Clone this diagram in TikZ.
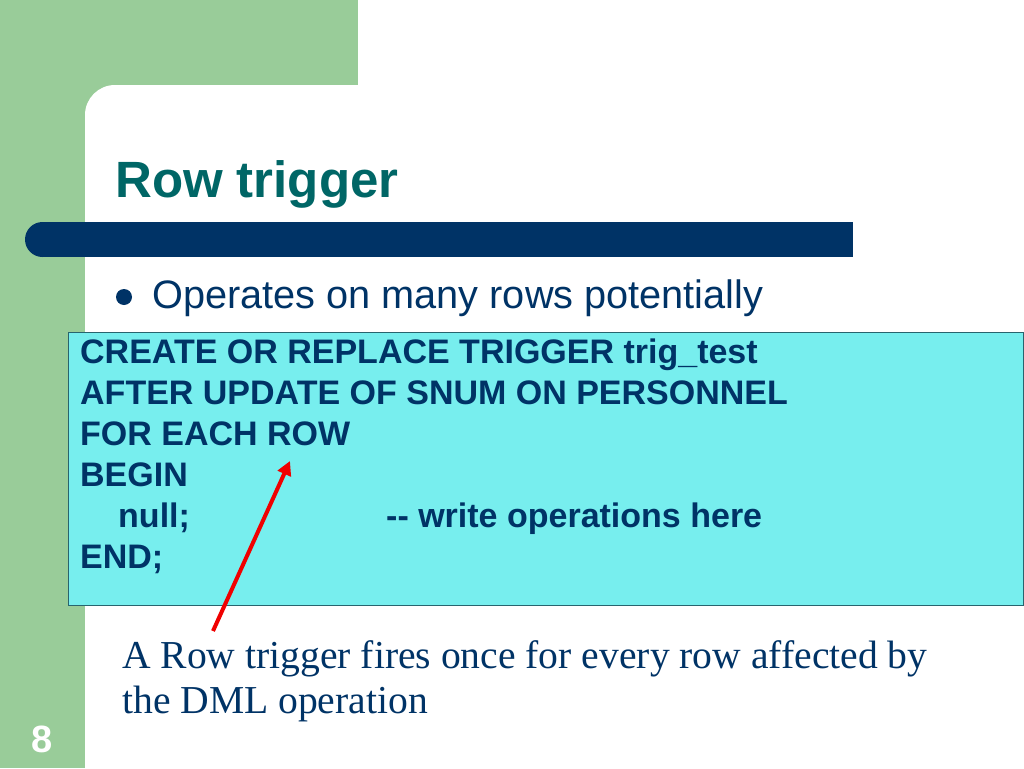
\documentclass[tikz,border=0pt]{standalone}
\usepackage{fontspec}
\setmainfont{Liberation Sans}
\newfontfamily\serifface{Liberation Serif}
\usetikzlibrary{arrows.meta}
\definecolor{sidegreen}{RGB}{153,204,153}
\definecolor{titleteal}{RGB}{0,102,102}
\definecolor{barblue}{RGB}{0,51,102}
\definecolor{textblue}{RGB}{0,51,102}
\definecolor{codecyan}{RGB}{119,238,238}
\definecolor{codeborder}{RGB}{40,100,110}
\definecolor{arrowred}{RGB}{240,0,0}
\tikzset{
  titletext/.style={anchor=base west, inner sep=0pt, text=titleteal, font=\fontsize{51}{60}\selectfont\bfseries},
  bullettext/.style={anchor=base west, inner sep=0pt, text=textblue, font=\fontsize{39.7}{46}\selectfont},
  codeline/.style={anchor=base west, inner sep=0pt, text=textblue, font=\fontsize{34}{41}\selectfont\bfseries},
  notetext/.style={anchor=base west, inner sep=0pt, text=textblue, font=\serifface\fontsize{39.6}{45}\selectfont},
  pointer/.style={draw=arrowred, line width=4pt, -{Triangle[length=14pt,width=14pt]}},
}
\begin{document}
\begin{tikzpicture}[x=1pt,y=-1pt]
\useasboundingbox (0,0) rectangle (1024,768);
% background
\fill[white] (0,0) rectangle (1024,768);
\fill[sidegreen] (0,0) rectangle (358,130);
\fill[sidegreen] (0,0) rectangle (85,768);
\fill[white, rounded corners=30pt] (85,85) rectangle (1100,850);
% title bar
\fill[barblue] (42.5,222) rectangle (853,257);
\fill[barblue] (42.5,239.5) circle[radius=17.5];
% title
\node[titletext] (title) at (115,197) {Row trigger};
% bullet
\fill[textblue] (124,297) circle[radius=8];
\node[bullettext] (bullet) at (152,308) {Operates on many rows potentially};
% code box
\node[draw=codeborder, fill=codecyan, line width=1pt, inner sep=0pt, minimum width=955pt, minimum height=273pt, anchor=north west] (codebox) at (68,332) {};
\node[codeline] (c1) at (80,363) {CREATE OR REPLACE TRIGGER trig\_test};
\node[codeline] (c2) at (80,404) {AFTER UPDATE OF SNUM ON PERSONNEL};
\node[codeline] (c3) at (80,445) {FOR EACH ROW};
\node[codeline] (c4) at (80,486) {BEGIN};
\node[codeline] (c5) at (118,527) {null;};
\node[codeline] (c5b) at (386,527) {-{}- write operations here};
\node[codeline] (c6) at (80,568) {END;};
% note
\node[notetext] (n1) at (122,668) {A Row trigger fires once for every row affected by};
\node[notetext] (n2) at (122,713) {the DML operation};
% arrow
\coordinate (tail) at (213,631);
\coordinate (tip) at (290,461);
\draw[pointer] (tail) -- (tip);
% page number
\node[inner sep=0pt, text=white, font=\fontsize{38}{44}\selectfont\bfseries] (pagenum) at (42,739) {8};
\end{tikzpicture}
\end{document}
